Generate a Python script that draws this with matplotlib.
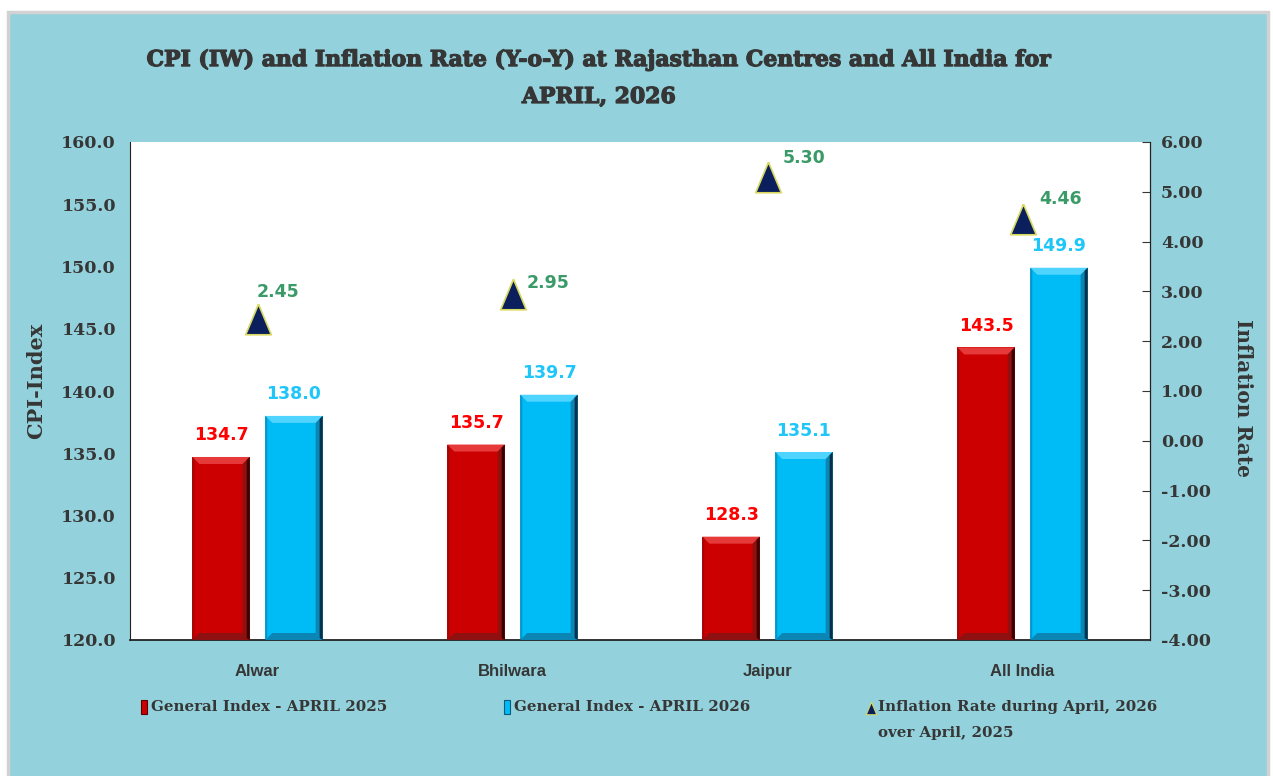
import numpy as np
import matplotlib
matplotlib.use("Agg")
import matplotlib.pyplot as plt
import matplotlib.patheffects as pe
from matplotlib.patches import Rectangle, Polygon
from matplotlib.lines import Line2D
from matplotlib.transforms import IdentityTransform

# chart data
centres = ["Alwar", "Bhilwara", "Jaipur", "All India"]
index_2025 = [134.7, 135.7, 128.3, 143.5]
index_2026 = [138.0, 139.7, 135.1, 149.9]
inflation = [2.45, 2.95, 5.30, 4.46]

cpi_ticks = [120, 125, 130, 135, 140, 145, 150, 155, 160]
infl_ticks = [-4, -3, -2, -1, 0, 1, 2, 3, 4, 5, 6]

# where excel put the inflation labels (pixels from the marker)
infl_label_off = [(21, 27), (36, 11), (36, 19), (38, 20)]

BG = "#93D2DC"
TXT = "#363636"
RED = "#CC0000"
BLUE = "#00BCF6"
NAVY = "#0A1F5C"

W, H = 1273, 776
fig = plt.figure(figsize=(W / 100, H / 100), dpi=100, facecolor="white")


def fx(px):
    return px / W


def fy(py):
    return 1 - py / H


# blue panel with a light grey frame
fig.add_artist(Rectangle((fx(8), -0.01), fx(1260), fy(12) + 0.01, transform=fig.transFigure,
                         facecolor=BG, edgecolor="#D2D2D2", linewidth=2.5, zorder=0))

ax = fig.add_axes([fx(130), fy(640), fx(1020), (640 - 142) / H])
ax.set_facecolor("white")
ax2 = ax.twinx()

x = np.arange(len(centres))
bw = 0.225
off = 0.143
bars1 = ax.bar(x - off, index_2025, bw, color=RED, zorder=2)
bars2 = ax.bar(x + off, index_2026, bw, color=BLUE, zorder=2)

ax.set_xlim(-0.5, len(centres) - 0.5)
ax.set_ylim(120, 160)
ax.set_yticks(cpi_ticks)
ax.set_yticklabels([f"{t:.1f}" for t in cpi_ticks])
ax.set_xticks(x)
ax.set_xticklabels(centres)
ax.tick_params(axis="x", length=0, pad=17, colors=TXT)
ax.tick_params(axis="y", length=0, pad=10, colors=TXT)
for lab in ax.get_yticklabels():
    lab.set_fontfamily("DejaVu Serif")
    lab.set_fontweight("bold")
    lab.set_fontsize(12.5)
for lab in ax.get_xticklabels():
    lab.set_fontfamily("Liberation Sans")
    lab.set_fontweight("bold")
    lab.set_fontsize(12)

ax.spines["top"].set_visible(False)
ax2.spines["top"].set_visible(False)
ax.spines["left"].set_color("#222222")
ax.spines["bottom"].set_color("#222222")
ax.spines["bottom"].set_linewidth(1.3)
ax2.spines["right"].set_color("#222222")
ax2.spines["left"].set_visible(False)
ax2.spines["bottom"].set_visible(False)

ax2.set_ylim(-4, 6)
ax2.set_yticks(infl_ticks)
ax2.set_yticklabels([f"{t:.2f}" for t in infl_ticks])
ax2.tick_params(axis="y", direction="in", length=6, pad=8, colors=TXT)
for lab in ax2.get_yticklabels():
    lab.set_fontfamily("DejaVu Serif")
    lab.set_fontweight("bold")
    lab.set_fontsize(12.5)

tri = [(0, 0.5), (-0.42, -0.5), (0.42, -0.5), (0, 0.5)]
ax2.plot(x, inflation, linestyle="none", marker=tri, markersize=22,
         markerfacecolor=NAVY, markeredgecolor="#D8D860", markeredgewidth=1.2, zorder=4)
for xi, v, (dx, dy) in zip(x, inflation, infl_label_off):
    ax2.annotate(f"{v:.2f}", (xi, v), xytext=(dx, dy), textcoords="offset pixels",
                 ha="center", va="center", color="#3A9A68", fontsize=12.5,
                 fontweight="bold", fontfamily="DejaVu Sans")

for bars, col in [(bars1, "#FF0000"), (bars2, "#1EC6FA")]:
    for b in bars:
        ax.annotate(f"{b.get_height():.1f}", (b.get_x() + b.get_width() / 2, b.get_height()),
                    xytext=(0, 9), textcoords="offset points", ha="center", va="bottom",
                    color=col, fontsize=12.5, fontweight="bold", fontfamily="DejaVu Sans")

ax.set_ylabel("CPI-Index", fontfamily="DejaVu Serif", fontweight="bold",
              fontsize=15, color=TXT)
ax2.set_ylabel("Inflation Rate", fontfamily="DejaVu Serif", fontweight="bold",
               fontsize=14.5, color=TXT, rotation=-90)
ax.yaxis.set_label_coords((46 - 130) / 1020, 0.52)
ax2.yaxis.set_label_coords((1253 - 130) / 1020, 0.485)

heavy = [pe.withStroke(linewidth=0.9, foreground=TXT)]
fig.text(fx(599), fy(60), "CPI (IW) and Inflation Rate (Y-o-Y) at Rajasthan Centres and All India for",
         ha="center", va="center", fontsize=15.8, fontweight="bold",
         fontfamily="DejaVu Serif", color=TXT, path_effects=heavy)
fig.text(fx(599), fy(97), "APRIL, 2026", ha="center", va="center", fontsize=15.8,
         fontweight="bold", fontfamily="DejaVu Serif", color=TXT, path_effects=heavy)

# bevel shading on the bars, in pixels
fig.canvas.draw()
ident = IdentityTransform()
ybase = ax.get_ylim()[0]


def bevel(bars, light, dark, side, edge):
    d = 7
    for b in bars:
        x0, y0 = ax.transData.transform((b.get_x(), ybase))
        x1, y1 = ax.transData.transform((b.get_x() + b.get_width(), b.get_height()))
        pieces = [
            ([(x0, y1), (x1, y1), (x1 - d, y1 - d), (x0 + d, y1 - d)], light),
            ([(x0, y0), (x1, y0), (x1 - d, y0 + d), (x0 + d, y0 + d)], dark),
            ([(x0, y0), (x0, y1), (x0 + 2, y1 - 2), (x0 + 2, y0 + 2)], side),
            ([(x1, y0), (x1, y1), (x1 - d, y1 - d), (x1 - d, y0 + d)], dark),
        ]
        for pts, c in pieces:
            ax.add_patch(Polygon(pts, closed=True, facecolor=c, edgecolor="none",
                                 transform=ident, zorder=3))
        ax.add_patch(Polygon([(x1 - 3, y0 + 2), (x1, y0), (x1, y1), (x1 - 3, y1 - 3)],
                             closed=True, facecolor=edge, edgecolor="none",
                             transform=ident, zorder=3))


bevel(bars1, "#E63A3A", "#8E1010", "#A00808", "#3A0000")
bevel(bars2, "#4FD3FF", "#0A85B4", "#0895C8", "#05304A")

# legend drawn by hand along the bottom
leg_font = dict(fontsize=10.8, fontweight="bold", fontfamily="DejaVu Serif", color=TXT,
                va="center", ha="left")
fig.add_artist(Rectangle((fx(141), fy(714)), fx(6), 14 / H, transform=fig.transFigure,
                         facecolor=RED, edgecolor="#5A0000", linewidth=0.8))
fig.text(fx(151), fy(707), "General Index - APRIL 2025", **leg_font)
fig.add_artist(Rectangle((fx(504), fy(714)), fx(6), 14 / H, transform=fig.transFigure,
                         facecolor=BLUE, edgecolor="#0A5A80", linewidth=0.8))
fig.text(fx(514), fy(707), "General Index - APRIL 2026", **leg_font)
fig.add_artist(Line2D([fx(871)], [fy(708)], transform=fig.transFigure, marker=tri,
                      markersize=9, markerfacecolor=NAVY, markeredgecolor="#D8D860",
                      markeredgewidth=0.8, linestyle="none"))
fig.text(fx(878), fy(707), "Inflation Rate during April, 2026", **leg_font)
fig.text(fx(878), fy(733), "over April, 2025", **leg_font)

fig.savefig("out.png", dpi=100, facecolor="white")
